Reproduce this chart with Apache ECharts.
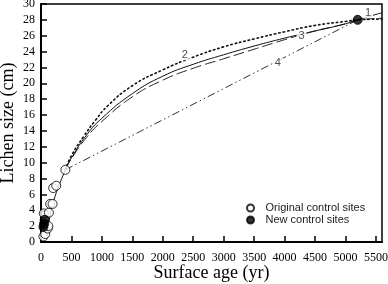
<!DOCTYPE html>
<html>
<head>
<meta charset="utf-8">
<script src="https://cdn.jsdelivr.net/npm/echarts@6/dist/echarts.min.js"></script>
<style>
  html, body { margin: 0; padding: 0; background: #fff; }
  #lichen_chart { width: 388px; height: 284px; }
</style>
</head>
<body>
<div id="lichen_chart"></div>
<script>
// Control sites (age in yr, lichen size in cm)
var originalAges  = [40, 70, 110, 120, 45, 130, 150, 190, 200, 250, 400];
var originalSizes = [0.7, 1.0, 1.7, 2.0, 3.6, 3.7, 4.8, 4.8, 6.8, 7.1, 9.1];
var newAges  = [40, 50, 60, 5200];
var newSizes = [1.9, 2.3, 2.8, 28.0];

// Growth curves
var curve1Ages  = [40, 110, 200, 400, 500, 750, 1000, 1500, 2000, 2500, 3000, 3500, 4000, 4500, 5000, 5200, 5600];
var curve1Sizes = [0.6, 2.0, 5.0, 9.1, 10.6, 13.5, 15.6, 18.7, 20.9, 22.4, 23.6, 24.7, 25.7, 26.6, 27.5, 28.0, 28.9];
var curve2Ages  = [400, 500, 700, 900, 1100, 1500, 2000, 2500, 3000, 3500, 4000, 4500, 5000, 5200, 5600];
var curve2Sizes = [9.1, 10.9, 13.3, 15.4, 17.2, 19.7, 21.7, 23.3, 24.6, 25.6, 26.5, 27.3, 27.8, 28.0, 28.1];
var curve3Ages  = [400, 500, 750, 1000, 1500, 2000, 2500, 3000, 3500, 4000, 4500, 5000, 5200, 5600];
var curve3Sizes = [9.1, 10.5, 13.2, 15.2, 18.3, 20.4, 21.9, 23.1, 24.3, 25.5, 26.6, 27.5, 28.0, 28.2];
var curve4Ages  = [400, 5200];
var curve4Sizes = [9.1, 28.0];

// Curve number labels
var curveNames     = ['1', '2', '3', '4'];
var curveNameAges  = [5370, 2360, 4280, 3890];
var curveNameSizes = [28.9, 23.6, 26.0, 22.6];

var ageTicks = 500;

function pairs(xs, ys) {
    return xs.map(function (x, i) { return [x, ys[i]]; });
}

var chart = echarts.init(document.getElementById('lichen_chart'), null, { renderer: 'canvas' });

var serif = '"Liberation Serif", "Times New Roman", serif';
var sans = '"Liberation Sans", Arial, sans-serif';

chart.setOption({
    animation: false,
    textStyle: { fontFamily: serif },

    grid: {
        left: 41, right: 6, top: 4, bottom: 42,
        outerBoundsMode: 'none',
        containLabel: false,
        show: true,
        borderColor: '#000',
        borderWidth: 1.5
    },

    legend: {
        orient: 'vertical',
        left: 241,
        top: 197,
        itemWidth: 20,
        itemHeight: 7,
        itemGap: 0,
        data: ['Original control sites', 'New control sites'],
        textStyle: { fontFamily: sans, fontSize: 11, color: '#222', lineHeight: 12 }
    },

    xAxis: {
        type: 'value',
        min: 0,
        max: 5600,
        interval: ageTicks,
        name: 'Surface age (yr)',
        nameLocation: 'middle',
        nameGap: 22,
        nameMoveOverlap: false,
        nameTextStyle: { fontFamily: serif, fontSize: 18, color: '#000' },
        axisLine: { show: true, lineStyle: { color: '#000', width: 2 } },
        axisTick: { show: true, inside: true, length: 6, lineStyle: { color: '#000', width: 1.5 } },
        axisLabel: {
            color: '#000', fontSize: 12, margin: 10,
            showMaxLabel: false,
            formatter: function (v) { return v % ageTicks === 0 ? v : ''; }
        },
        splitLine: { show: false }
    },

    yAxis: {
        type: 'value',
        min: 0,
        max: 30,
        interval: 2,
        name: 'Lichen size (cm)',
        nameLocation: 'middle',
        nameGap: 24,
        nameMoveOverlap: false,
        nameTextStyle: { fontFamily: serif, fontSize: 18, color: '#000' },
        axisLine: { show: true, lineStyle: { color: '#000', width: 2 } },
        axisTick: { show: true, inside: true, length: 6, lineStyle: { color: '#000', width: 1.5 } },
        axisLabel: { color: '#000', fontSize: 12, margin: 6 },
        splitLine: { show: false }
    },

    series: [
        {
            name: 'curve 4',
            type: 'line',
            data: pairs(curve4Ages, curve4Sizes),
            symbol: 'none',
            lineStyle: { color: '#333', width: 1, type: [8, 3, 1.5, 3, 1.5, 3] },
            z: 2
        },
        {
            name: 'curve 3',
            type: 'line',
            smooth: true,
            data: pairs(curve3Ages, curve3Sizes),
            symbol: 'none',
            lineStyle: { color: '#222', width: 1, type: [11, 4] },
            z: 2
        },
        {
            name: 'curve 2',
            type: 'line',
            smooth: true,
            data: pairs(curve2Ages, curve2Sizes),
            symbol: 'none',
            lineStyle: { color: '#111', width: 1.6, type: [1.5, 3], cap: 'round' },
            z: 2
        },
        {
            name: 'curve 1',
            type: 'line',
            smooth: true,
            data: pairs(curve1Ages, curve1Sizes),
            symbol: 'none',
            lineStyle: { color: '#111', width: 1 },
            z: 3
        },
        {
            name: 'curve labels',
            type: 'scatter',
            symbolSize: 0,
            silent: true,
            data: curveNames.map(function (n, i) {
                return { name: n, value: [curveNameAges[i], curveNameSizes[i]] };
            }),
            label: {
                show: true,
                position: 'inside',
                formatter: '{b}',
                fontFamily: sans,
                fontSize: 11,
                color: '#222',
                backgroundColor: '#fff',
                padding: [0, 2]
            },
            z: 4
        },
        {
            name: 'Original control sites',
            type: 'scatter',
            symbol: 'circle',
            symbolSize: 9,
            data: pairs(originalAges, originalSizes),
            itemStyle: { color: '#fff', borderColor: '#000', borderWidth: 1 },
            z: 5
        },
        {
            name: 'New control sites',
            type: 'scatter',
            symbol: 'circle',
            symbolSize: 9,
            data: pairs(newAges, newSizes),
            itemStyle: { color: '#000', borderColor: '#000', borderWidth: 1 },
            z: 6
        }
    ]
});
</script>
</body>
</html>
